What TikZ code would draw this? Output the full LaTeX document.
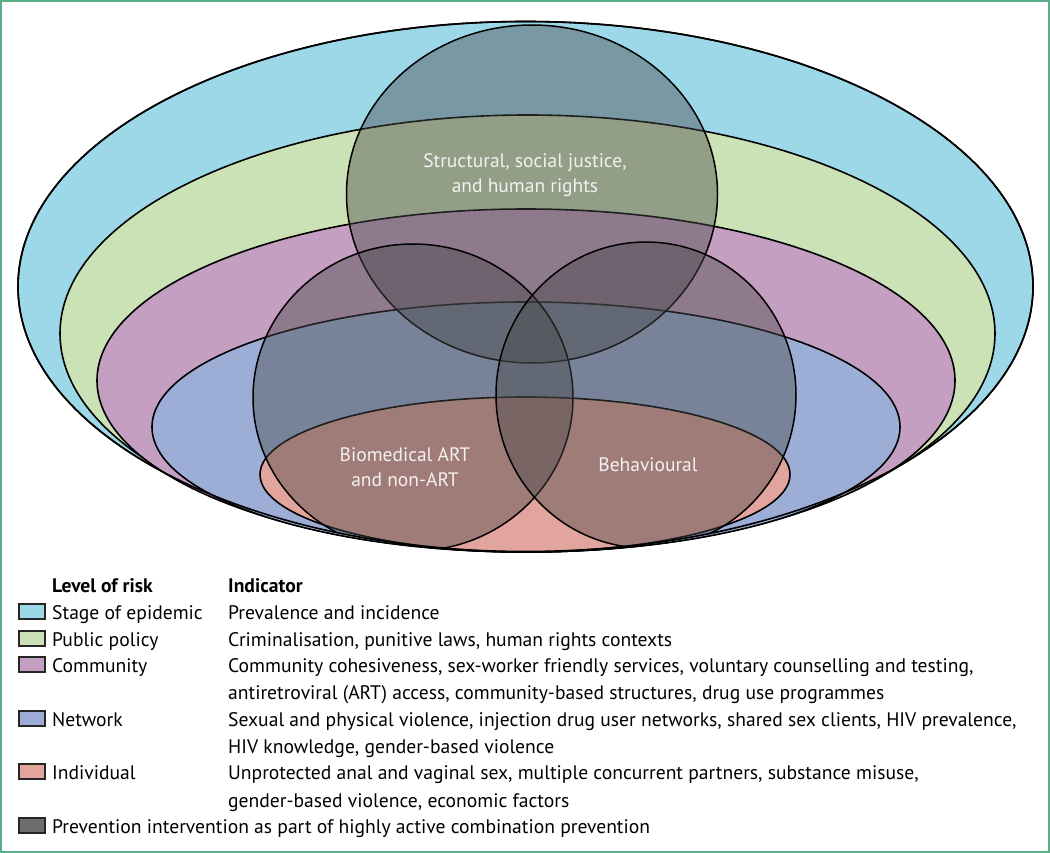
\documentclass[tikz,border=0pt]{standalone}
\usepackage{fontspec}
\setmainfont{PT Sans}
\definecolor{cstage}{HTML}{9DD8E9}
\definecolor{cpolicy}{HTML}{CBE2B6}
\definecolor{ccomm}{HTML}{C59FC2}
\definecolor{cnet}{HTML}{9DAED6}
\definecolor{cind}{HTML}{E2A59E}
\definecolor{cover}{RGB}{72,72,72}
\definecolor{cprev}{HTML}{6E6E70}
\definecolor{cframe}{HTML}{5AAE88}
\definecolor{clabel}{HTML}{F4F0F0}
\tikzset{
  ring/.style={draw=black, line width=1.6pt},
  venn/.style={draw=black, line width=1.5pt, fill=cover, fill opacity=0.43},
  inlabel/.style={text=clabel, align=center, font=\fontsize{19.5}{25}\selectfont, inner sep=0pt},
  legtext/.style={anchor=base west, inner sep=0pt, font=\fontsize{19.6}{22}\selectfont},
  leghead/.style={legtext, font=\fontsize{19.6}{22}\selectfont\bfseries},
  swatch/.style={draw=black!85, line width=1.8pt},
}
\begin{document}
\begin{tikzpicture}[x=1pt,y=-1pt]
\useasboundingbox (0,0) rectangle (1050,853);
\fill[white] (0,0) rectangle (1050,853);
\draw[cframe, line width=1.6pt] (0.8,0.8) rectangle (1049.2,852.2);
% nested levels (all tangent at the bottom)
\filldraw[ring, fill=cstage]  (525.5,286.5) ellipse [x radius=507.5pt, y radius=265pt];
\filldraw[ring, fill=cpolicy] (527.5,333.5) ellipse [x radius=467.5pt, y radius=218.5pt];
\filldraw[ring, fill=ccomm]   (526,380.5) ellipse [x radius=429pt, y radius=171.5pt];
\filldraw[ring, fill=cnet]    (526,427) ellipse [x radius=374pt, y radius=125pt];
\filldraw[ring, fill=cind]    (525,474.5) ellipse [x radius=265pt, y radius=77.5pt];
% prevention interventions
\begin{scope}
\clip (525.5,286.5) ellipse [x radius=507.5pt, y radius=265pt];
\filldraw[venn] (532,194) ellipse [x radius=185.5pt, y radius=169pt];
\filldraw[venn] (413,397.5) ellipse [x radius=160pt, y radius=153.5pt];
\filldraw[venn] (646,395) ellipse [x radius=150pt, y radius=153pt];
\end{scope}
\draw[ring] (525.5,286.5) ellipse [x radius=507.5pt, y radius=265pt];
\node[inlabel] (struct) at (525,175) {Structural, social justice,\\and human rights};
\node[inlabel] (bio) at (405,467) {Biomedical ART\\and non-ART};
\node[inlabel] (beh) at (648,465) {Behavioural};
% legend
\node[leghead] (h1) at (52,592) {Level of risk};
\node[leghead] (h2) at (228,592) {Indicator};
\draw[swatch, fill=cstage]  (19,604) rectangle (45,619);
\node[legtext] (l1) at (52,619) {Stage of epidemic};
\node[legtext] (i1) at (228,619) {Prevalence and incidence};
\draw[swatch, fill=cpolicy] (19,631) rectangle (45,646);
\node[legtext] (l2) at (52,646) {Public policy};
\node[legtext] (i2) at (228,646) {Criminalisation, punitive laws, human rights contexts};
\draw[swatch, fill=ccomm]   (19,657) rectangle (45,672);
\node[legtext] (l3) at (52,672) {Community};
\node[legtext] (i3) at (228,672) {Community cohesiveness, sex-worker friendly services, voluntary counselling and testing,};
\node[legtext] (i3b) at (228,699) {antiretroviral (ART) access, community-based structures, drug use programmes};
\draw[swatch, fill=cnet]    (19,711) rectangle (45,726);
\node[legtext] (l4) at (52,726) {Network};
\node[legtext] (i4) at (228,726) {Sexual and physical violence, injection drug user networks, shared sex clients, HIV prevalence,};
\node[legtext] (i4b) at (228,753) {HIV knowledge, gender-based violence};
\draw[swatch, fill=cind]    (19,764) rectangle (45,779);
\node[legtext] (l5) at (52,779) {Individual};
\node[legtext] (i5) at (228,779) {Unprotected anal and vaginal sex, multiple concurrent partners, substance misuse,};
\node[legtext] (i5b) at (228,807) {gender-based violence, economic factors};
\draw[swatch, fill=cprev]   (19,818) rectangle (45,833);
\node[legtext] (l6) at (52,833) {Prevention intervention as part of highly active combination prevention};
\end{tikzpicture}
\end{document}
